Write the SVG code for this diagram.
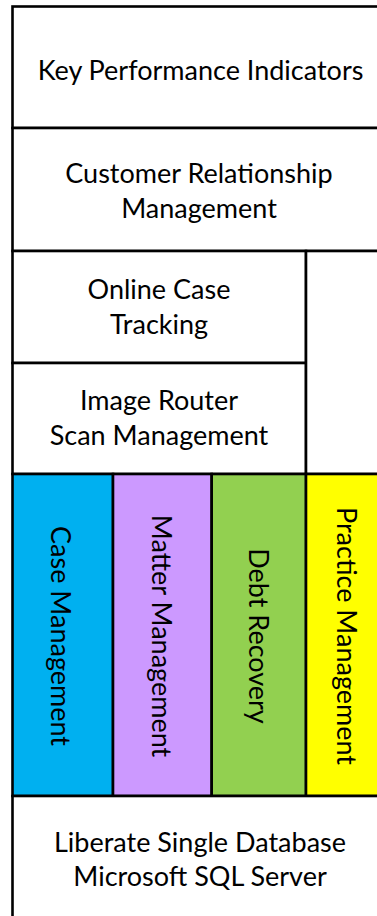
<svg xmlns="http://www.w3.org/2000/svg" width="377" height="916" viewBox="0 0 377 916">
<style>
rect{stroke:#000;stroke-width:2.6}
.w{fill:#fff}
text{font-family:Lato,"Open Sans","Liberation Sans",sans-serif;font-size:27px;fill:#000;text-anchor:middle}
</style>
<rect x="0" y="0" width="377" height="916" fill="#fff" style="stroke:none"/>
<g id="kpi"><rect class="w" x="12.5" y="6.5" width="376" height="121.5"/><text x="200.5" y="80">Key Performance Indicators</text></g>
<g id="crm"><rect class="w" x="12.5" y="128" width="376" height="123"/><text x="199" y="183">Customer Relationship</text><text x="199" y="218">Management</text></g>
<g id="oct"><rect class="w" x="12.5" y="251" width="293.5" height="112"/><text x="159" y="299">Online Case</text><text x="159" y="334">Tracking</text></g>
<g id="img"><rect class="w" x="12.5" y="363" width="293.5" height="111"/><text x="159" y="410">Image Router</text><text x="159" y="445">Scan Management</text></g>
<g id="side"><rect class="w" x="306" y="251" width="82.5" height="223"/></g>
<g id="case"><rect x="12.5" y="474" width="100.5" height="322" fill="#00B0F0"/><text transform="translate(51,636) rotate(90)">Case Management</text></g>
<g id="matter"><rect x="113" y="474" width="98.7" height="322" fill="#CC99FF"/><text transform="translate(152,636) rotate(90)">Matter Management</text></g>
<g id="debt"><rect x="211.7" y="474" width="94.3" height="322" fill="#92D050"/><text transform="translate(249,636) rotate(90)">Debt Recovery</text></g>
<g id="practice"><rect x="306" y="474" width="82.5" height="322" fill="#FFFF00"/><text transform="translate(337,636) rotate(90)">Practice Management</text></g>
<g id="db"><rect class="w" x="12.5" y="796" width="376" height="130"/><text x="200" y="852">Liberate Single Database</text><text x="200" y="886">Microsoft SQL Server</text></g>
<g id="connectors"></g>
</svg>
